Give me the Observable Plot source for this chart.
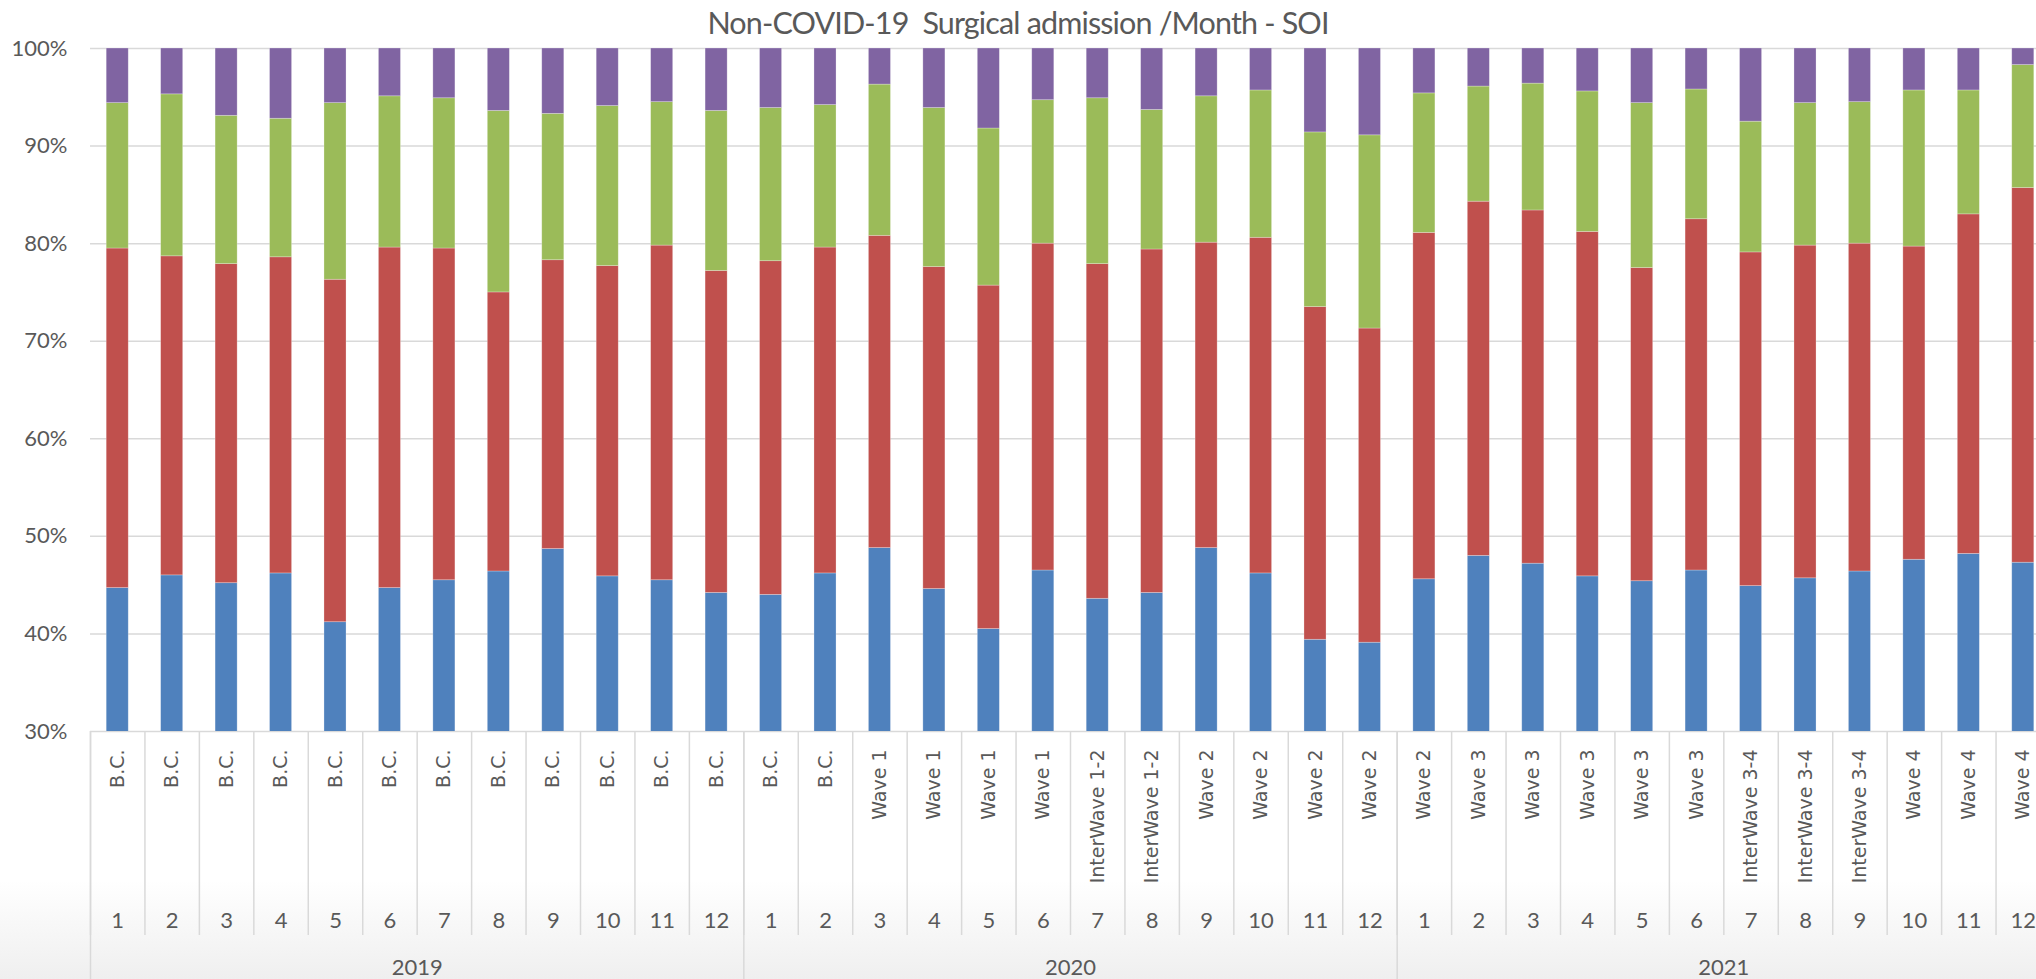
<!DOCTYPE html>
<html><head><meta charset="utf-8">
<script src="https://cdn.jsdelivr.net/npm/d3@7"></script>
<script src="https://cdn.jsdelivr.net/npm/@observablehq/plot@0.6"></script>
<style>
html,body{margin:0;padding:0;overflow:hidden;width:2036px;height:979px;}
body{background:linear-gradient(to bottom,#ffffff 0px,#ffffff 880px,#efefef 979px);font-family:Lato,sans-serif;}
#title{height:40px;line-height:45px;width:2036px;text-align:center;font-size:30.5px;letter-spacing:-0.85px;color:#595959;white-space:pre;}
#chart{width:2050px;}
</style></head><body>
<div id="title">Non-COVID-19  Surgical admission /Month - SOI</div>
<div id="chart"></div>
<script>
const years = [2019, 2020, 2021];
const months = [1,2,3,4,5,6,7,8,9,10,11,12, 1,2,3,4,5,6,7,8,9,10,11,12, 1,2,3,4,5,6,7,8,9,10,11,12];
const phases = [
  "B.C.","B.C.","B.C.","B.C.","B.C.","B.C.","B.C.","B.C.","B.C.","B.C.","B.C.","B.C.",
  "B.C.","B.C.","Wave 1","Wave 1","Wave 1","Wave 1","InterWave 1-2","InterWave 1-2","Wave 2","Wave 2","Wave 2","Wave 2",
  "Wave 2","Wave 3","Wave 3","Wave 3","Wave 3","Wave 3","InterWave 3-4","InterWave 3-4","InterWave 3-4","Wave 4","Wave 4","Wave 4"
];
const seriesNames = ["SOI 1", "SOI 2", "SOI 3", "SOI 4"];
const seriesColors = ["#4F81BD", "#C0504D", "#9BBB59", "#8064A2"];
const soi1 = [44.7,46.0,45.2,46.2,41.2,44.7,45.5,46.4,48.7,45.9,45.5,44.2, 44.0,46.2,48.8,44.6,40.5,46.5,43.6,44.2,48.8,46.2,39.4,39.1, 45.6,48.0,47.2,45.9,45.4,46.5,44.9,45.7,46.4,47.6,48.2,47.3];
const soi2 = [34.8,32.7,32.7,32.4,35.1,34.9,34.0,28.6,29.6,31.8,34.3,33.0, 34.2,33.4,32.0,33.0,35.2,33.5,34.3,35.2,31.3,34.4,34.1,32.2, 35.5,36.3,36.2,35.3,32.1,36.0,34.2,34.1,33.6,32.1,34.8,38.4];
const soi3 = [14.9,16.6,15.2,14.2,18.1,15.5,15.4,18.6,15.0,16.4,14.7,16.4, 15.7,14.6,15.5,16.3,16.1,14.7,17.0,14.3,15.0,15.1,17.9,19.8, 14.3,11.8,13.0,14.4,16.9,13.3,13.4,14.6,14.5,16.0,12.7,12.6];
const soi4 = [5.6,4.7,6.9,7.2,5.6,4.9,5.1,6.4,6.7,5.9,5.5,6.4, 6.1,5.8,3.7,6.1,8.2,5.3,5.1,6.3,4.9,4.3,8.6,8.9, 4.6,3.9,3.6,4.4,5.6,4.2,7.5,5.6,5.5,4.3,4.3,1.7];
const yTicks = [30, 40, 50, 60, 70, 80, 90, 100];

const W = 2050, H = 939, ML = 90, MR = 0, MT = 8, MB = 248;
const keys = months.map((m, i) => `${years[Math.floor(i / 12)]}-${m}`);
const cats = keys.map((k, i) => ({key: k, month: months[i], phase: phases[i]}));
const seriesValues = [soi1, soi2, soi3, soi4];
const rows = [];
seriesNames.forEach((s, j) => seriesValues[j].forEach((v, i) => rows.push({key: keys[i], series: s, value: v})));
const yearStarts = years.map(y => `${y}-1`);
const step = (W - ML - MR) / keys.length;
const frameH = H - MT - MB;
const grey = "#d9d9d9";
const textColor = "#595959";

const chart = Plot.plot({
  width: W, height: H,
  marginLeft: ML, marginRight: MR, marginTop: MT, marginBottom: MB,
  style: {background: "transparent", maxWidth: "none", color: textColor, fontFamily: "Lato, sans-serif", overflow: "visible"},
  x: {type: "band", domain: keys, paddingInner: 0.595, paddingOuter: 0.2975, round: false, axis: null},
  y: {domain: [30, 100], axis: null},
  color: {domain: seriesNames, range: seriesColors},
  marks: [
    Plot.ruleY(yTicks, {stroke: grey, strokeWidth: 1.5}),
    Plot.barY(rows, {x: "key", y: "value", fill: "series", clip: true, stroke: "#ffffff", strokeOpacity: 0.35, strokeWidth: 0.75}),
    Plot.axisY({ticks: yTicks, tickFormat: d => d + "%", tickSize: 0, tickPadding: 23, fontSize: 22, fill: textColor, label: null}),
    Plot.ruleX(cats, {x: "key", dx: -step / 2, insetTop: frameH, insetBottom: -204, stroke: grey, strokeWidth: 1.5}),
    Plot.ruleX(yearStarts, {x: d => d, dx: -step / 2, insetTop: frameH, insetBottom: -MB, stroke: grey, strokeWidth: 1.5}),
    Plot.text(cats, {x: "key", text: "phase", frameAnchor: "bottom", lineAnchor: "middle", rotate: -90, textAnchor: "end", dy: 18, fontSize: 19, fontFamily: "DejaVu Sans", fill: textColor}),
    Plot.text(cats, {x: "key", text: d => String(d.month), frameAnchor: "bottom", lineAnchor: "middle", dy: 189, fontSize: 22, fill: textColor}),
    Plot.text(years, {x: d => `${d}-6`, text: d => String(d), dx: step / 2, frameAnchor: "bottom", lineAnchor: "middle", dy: 236, fontSize: 22, fill: textColor})
  ]
});
document.getElementById("chart").appendChild(chart);
</script></body></html>
